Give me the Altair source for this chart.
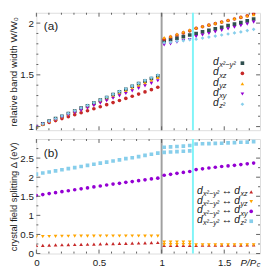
import altair as alt
import pandas as pd

FONT = "Liberation Sans"
TXT = "#1a1a1a"
FRAME = "#606060"

# ---------------- data ----------------
PC = 19.6  # critical pressure (GPa)
P_GPA = [0, 1, 2, 3, 4, 5, 6, 7, 8, 9, 10, 11, 12, 13, 14, 15, 16, 17, 18, 19,
         20, 21, 22, 23, 24, 25, 26, 27, 28, 29, 30, 31, 32, 33, 34]
P_MID_GPA = [20, 21, 22, 23, 24]

# panel (a): relative band width W/W0
A_X2Y2 = [1.000, 1.027, 1.053, 1.077, 1.100, 1.126, 1.150, 1.178, 1.200, 1.227,
          1.255, 1.280, 1.310, 1.335, 1.360, 1.390, 1.415, 1.440, 1.465, 1.490,
          1.825, 1.840, 1.855, 1.870, 1.885, 1.900, 1.915, 1.930, 1.945, 1.960,
          1.975, 1.990, 2.005, 2.022, 2.040]
A_XZ = [1.000, 1.020, 1.040, 1.058, 1.077, 1.096, 1.115, 1.134, 1.153, 1.172,
        1.192, 1.212, 1.232, 1.252, 1.272, 1.293, 1.314, 1.335, 1.357, 1.380,
        1.845, 1.865, 1.885, 1.905, 1.925, 1.950, 1.965, 1.980, 1.995, 2.010,
        2.025, 2.040, 2.055, 2.070, 2.090]
A_YZ = [1.000, 1.025, 1.050, 1.074, 1.097, 1.120, 1.144, 1.170, 1.193, 1.218,
        1.244, 1.268, 1.295, 1.320, 1.345, 1.372, 1.397, 1.422, 1.448, 1.475,
        1.860, 1.875, 1.895, 1.915, 1.935, 1.955, 1.970, 1.985, 2.000, 2.015,
        2.030, 2.045, 2.060, 2.072, 2.082]
A_XY = [1.000, 1.023, 1.046, 1.068, 1.090, 1.112, 1.134, 1.157, 1.180, 1.203,
        1.226, 1.250, 1.274, 1.297, 1.320, 1.345, 1.370, 1.393, 1.418, 1.443,
        1.790, 1.800, 1.815, 1.830, 1.840, 1.870, 1.885, 1.900, 1.915, 1.930,
        1.945, 1.960, 1.975, 1.990, 2.010]
A_Z2 = [1.000, 1.027, 1.053, 1.078, 1.102, 1.128, 1.153, 1.180, 1.205, 1.230,
        1.258, 1.285, 1.313, 1.340, 1.366, 1.393, 1.420, 1.447, 1.472, 1.498,
        1.810, 1.815, 1.825, 1.830, 1.840, 1.845, 1.855, 1.865, 1.875, 1.885,
        1.895, 1.905, 1.915, 1.928, 1.940]

# panel (b): crystal field splitting (eV)
B_XZ = [0.210, 0.215, 0.220, 0.225, 0.230, 0.233, 0.237, 0.240, 0.244, 0.248,
        0.252, 0.256, 0.260, 0.264, 0.268, 0.272, 0.276, 0.280, 0.284, 0.288,
        0.210, 0.210, 0.212, 0.213, 0.214, 0.215, 0.216, 0.217, 0.218, 0.219,
        0.220, 0.221, 0.222, 0.223, 0.224]
B_YZ = [0.440, 0.445, 0.447, 0.450, 0.452, 0.453, 0.455, 0.456, 0.457, 0.458,
        0.459, 0.460, 0.460, 0.460, 0.460, 0.460, 0.460, 0.458, 0.456, 0.455,
        0.300, 0.300, 0.300, 0.300, 0.300, 0.225, 0.225, 0.226, 0.226, 0.227,
        0.227, 0.228, 0.228, 0.229, 0.229]
B_YZ_EXTRA = [0.235, 0.235, 0.236, 0.236, 0.237]
B_XY = [1.520, 1.545, 1.570, 1.595, 1.620, 1.645, 1.670, 1.695, 1.720, 1.745,
        1.770, 1.795, 1.820, 1.840, 1.865, 1.885, 1.910, 1.930, 1.955, 1.975,
        2.050, 2.075, 2.100, 2.125, 2.150, 2.200, 2.220, 2.240, 2.260, 2.280,
        2.295, 2.310, 2.330, 2.350, 2.370]
B_Z2 = [2.080, 2.110, 2.135, 2.165, 2.195, 2.225, 2.250, 2.280, 2.310, 2.340,
        2.370, 2.395, 2.425, 2.455, 2.485, 2.510, 2.540, 2.570, 2.600, 2.630,
        2.785, 2.795, 2.805, 2.815, 2.830, 2.870, 2.875, 2.880, 2.885, 2.890,
        2.900, 2.905, 2.915, 2.920, 2.930]
B_Z2_EXTRA = [2.650, 2.660, 2.670, 2.680, 2.690]

VLINES_GRAY = [1.0]
VLINES_CYAN = [1.25]

X_MAJOR = [0, 0.5, 1, 1.5]
X_MINOR = [0.1, 0.2, 0.3, 0.4, 0.6, 0.7, 0.8, 0.9, 1.1, 1.2, 1.3, 1.4, 1.6, 1.7]
YA_MAJOR = [1, 1.5, 2]
YA_MINOR = [1.1, 1.2, 1.3, 1.4, 1.6, 1.7, 1.8, 1.9]
YB_MAJOR = [0, 0.5, 1, 1.5, 2, 2.5]
YB_MINOR = [0.25, 0.75, 1.25, 1.75, 2.25, 2.75]

# ---------------- style / layout ----------------
C_DARK = "#2f4f4f"
C_RED = "#c62828"
C_ORANGE = "#ffa500"
C_PURPLE = "#9400d3"
C_LBLUE = "#87ceeb"
SZ = 14

W = 228.5
HA = 120
HB = 117

xs = alt.Scale(domain=[0, 35 / PC], nice=False, zero=False)
ys_a = alt.Scale(domain=[0.965, 2.1], nice=False, zero=False)
ys_b = alt.Scale(domain=[0, 3], nice=False, zero=False)


def yaxis(values, title, tsize):
    return alt.Axis(values=values, format="~g", ticks=False, domain=False, grid=False,
                    labelPadding=3, labelFlush=False, labelOverlap=False,
                    labelFont=FONT, labelFontSize=10, labelColor=TXT,
                    title=title, titleFont=FONT, titleFontSize=tsize,
                    titleFontWeight="normal", titleColor=TXT, titlePadding=1)


xaxis_b = alt.Axis(values=X_MAJOR, format="~g", ticks=False, domain=False, grid=False,
                   labelPadding=4, labelFlush=False, labelOverlap=False,
                   labelFont=FONT, labelFontSize=10, labelColor=TXT)


def df_series(pgpa, vals):
    return pd.DataFrame({"P": [g / PC for g in pgpa], "v": vals})


def points(df, shape, color, X, Y):
    return alt.Chart(df).mark_point(shape=shape, filled=True, color=color, size=SZ,
                                    opacity=1, strokeWidth=0, clip=True).encode(x=X(), y=Y())


def txt(s, x, y, size, italic=True, align="left"):
    return alt.Chart(pd.DataFrame({"t": [s]})).mark_text(
        align=align, baseline="middle", font=FONT, fontSize=size,
        fontStyle="italic" if italic else "normal", color=TXT
    ).encode(x=alt.value(x), y=alt.value(y), text="t:N")


def mk(shape, color, x, y):
    return alt.Chart(pd.DataFrame({"t": [0]})).mark_point(
        shape=shape, filled=True, color=color, size=SZ, opacity=1, strokeWidth=0
    ).encode(x=alt.value(x), y=alt.value(y))


def frame_layers(X, Y, xmaj, xmin, ymaj, ymin, H):
    out = []
    for vals, ln in ((xmaj, 4), (xmin, 2)):
        d = pd.DataFrame({"P": vals})
        out.append(alt.Chart(d).mark_rule(color=FRAME, strokeWidth=1).encode(
            x=X(), y=alt.value(H), y2=alt.value(H - ln)))
        out.append(alt.Chart(d).mark_rule(color=FRAME, strokeWidth=1).encode(
            x=X(), y=alt.value(0), y2=alt.value(ln)))
    for vals, ln in ((ymaj, 4), (ymin, 2)):
        d = pd.DataFrame({"v": vals})
        out.append(alt.Chart(d).mark_rule(color=FRAME, strokeWidth=1).encode(
            y=Y(), x=alt.value(0), x2=alt.value(ln)))
        out.append(alt.Chart(d).mark_rule(color=FRAME, strokeWidth=1).encode(
            y=Y(), x=alt.value(W), x2=alt.value(W - ln)))
    return out


def vline_layers(X):
    return [
        alt.Chart(pd.DataFrame({"P": VLINES_GRAY})).mark_rule(color="#a0a0a0", strokeWidth=2).encode(x=X()),
        alt.Chart(pd.DataFrame({"P": VLINES_CYAN})).mark_rule(color="#80f4f8", strokeWidth=2).encode(x=X()),
    ]


# ---------------- panel (a) ----------------
ya_axis = yaxis(YA_MAJOR, "relative band width W/W₀", 10)
XA = lambda: alt.X("P:Q", scale=xs, axis=None)
YA = lambda: alt.Y("v:Q", scale=ys_a, axis=ya_axis)

layers_a = vline_layers(XA)
layers_a += [
    points(df_series(P_GPA, A_X2Y2), "square", C_DARK, XA, YA),
    points(df_series(P_GPA, A_XZ), "circle", C_RED, XA, YA),
    points(df_series(P_GPA, A_YZ), "triangle-up", C_ORANGE, XA, YA),
    points(df_series(P_GPA, A_XY), "triangle-down", C_PURPLE, XA, YA),
    points(df_series(P_GPA, A_Z2), "diamond", C_LBLUE, XA, YA),
]
layers_a += frame_layers(XA, YA, X_MAJOR, X_MINOR, YA_MAJOR, YA_MINOR, HA)
layers_a.append(txt("(a)", 7.5, 13.8, 12, italic=False))

LEG_A_SUB = ["x²−y²", "xz", "yz", "xy", "z²"]
LEG_A_SHAPE = ["square", "circle", "triangle-up", "triangle-down", "diamond"]
LEG_A_COLOR = [C_DARK, C_RED, C_ORANGE, C_PURPLE, C_LBLUE]
LEG_A_ROWY = [51.5, 62, 72.5, 83, 93.5]
LEG_A_X = 180.5
LEG_A_MX = 210.5
for sub, shp, col, ry in zip(LEG_A_SUB, LEG_A_SHAPE, LEG_A_COLOR, LEG_A_ROWY):
    layers_a.append(txt("d", LEG_A_X, ry - 1, 10.5))
    layers_a.append(txt(sub, LEG_A_X + 6.3, ry + 2.3, 7.5))
    layers_a.append(mk(shp, col, LEG_A_MX, ry))

panel_a = alt.layer(*layers_a).properties(width=W, height=HA)

# ---------------- panel (b) ----------------
yb_axis = yaxis(YB_MAJOR, "crystal field splitting Δ (eV)", 9.5)
XB = lambda: alt.X("P:Q", scale=xs, axis=xaxis_b, title=None)
YB = lambda: alt.Y("v:Q", scale=ys_b, axis=yb_axis)

layers_b = vline_layers(XB)
layers_b += [
    points(df_series(P_GPA, B_XZ), "triangle-up", C_RED, XB, YB),
    points(df_series(P_GPA, B_YZ), "triangle-down", C_ORANGE, XB, YB),
    points(df_series(P_MID_GPA, B_YZ_EXTRA), "triangle-down", C_ORANGE, XB, YB),
    points(df_series(P_GPA, B_XY), "circle", C_PURPLE, XB, YB),
    points(df_series(P_GPA, B_Z2), "square", C_LBLUE, XB, YB),
    points(df_series(P_MID_GPA, B_Z2_EXTRA), "square", C_LBLUE, XB, YB),
]
layers_b += frame_layers(XB, YB, X_MAJOR, X_MINOR, YB_MAJOR, YB_MINOR, HB)
layers_b.append(txt("(b)", 7.5, 14.7, 12, italic=False))

LEG_B_SUB = ["xz", "yz", "xy", "z²"]
LEG_B_SHAPE = ["triangle-up", "triangle-down", "circle", "square"]
LEG_B_COLOR = [C_RED, C_ORANGE, C_PURPLE, C_LBLUE]
LEG_B_ROWY = [54, 64, 74, 84]
LEG_B_X = 164
LEG_B_MX = 219.5
for sub, shp, col, ry in zip(LEG_B_SUB, LEG_B_SHAPE, LEG_B_COLOR, LEG_B_ROWY):
    layers_b.append(txt("d", LEG_B_X, ry - 1, 10.5))
    layers_b.append(txt("x²−y²", LEG_B_X + 6.3, ry + 2.3, 7.3))
    layers_b.append(txt("↔", LEG_B_X + 25.5, ry - 1, 10.5, italic=False))
    layers_b.append(txt("d", LEG_B_X + 38.2, ry - 1, 10.5))
    layers_b.append(txt(sub, LEG_B_X + 44.5, ry + 2.3, 7.3))
    layers_b.append(mk(shp, col, LEG_B_MX, ry))

layers_b.append(txt("P/P", 208.5, HB + 9.5, 10))
layers_b.append(txt("c", 225.2, HB + 12, 7.5))

panel_b = alt.layer(*layers_b).properties(width=W, height=HB)

chart = alt.vconcat(panel_a, panel_b, spacing=5).properties(
    padding={"left": 0, "top": 0, "right": 0, "bottom": 0}
).configure_view(stroke=FRAME, strokeWidth=1).configure(background="white")

chart.save("out.html", embed_options={"renderer": "svg", "actions": False})
